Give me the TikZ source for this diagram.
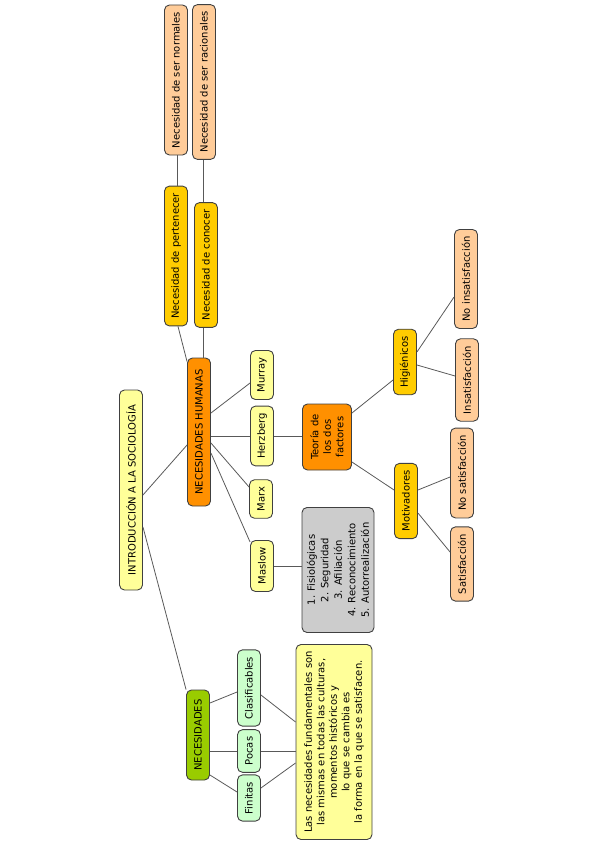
\documentclass[tikz,border=0pt]{standalone}
\usepackage{fontspec}
\setmainfont{DejaVu Sans}
\definecolor{amarillo}{HTML}{FFFF99}
\definecolor{naranja}{HTML}{FF9000}
\definecolor{oro}{HTML}{FFCC00}
\definecolor{durazno}{HTML}{FFCC99}
\definecolor{gris}{HTML}{CCCCCC}
\definecolor{verde}{HTML}{99CC00}
\definecolor{verdeclaro}{HTML}{CCFFCC}
\begin{document}
\begin{tikzpicture}[x=1pt, y=1pt, font=\fontsize{10}{12.5}\selectfont,
  caja/.style={draw=black!75, line width=.9pt, rounded corners=5pt, rotate=90,
    minimum height=23pt, inner xsep=7pt, inner ysep=2pt, align=center},
  linea/.style={draw=black!65, line width=.8pt}]
\useasboundingbox (0,0) rectangle (599,-848);
% concepto principal
\node[caja, fill=amarillo, minimum width=200pt] (intro) at (131,-490) {INTRODUCCIÓN A LA SOCIOLOGÍA};
\node[caja, fill=naranja, minimum width=148pt] (nh) at (199,-432) {NECESIDADES HUMANAS};
\node[caja, fill=verde, minimum width=90pt] (nec) at (198,-735) {NECESIDADES};
% necesidades humanas
\node[caja, fill=oro] (pert) at (176,-256) {Necesidad de pertenecer};
\node[caja, fill=oro] (conocer) at (206,-265) {Necesidad de conocer};
\node[caja, fill=durazno] (normales) at (176,-80) {Necesidad de ser normales};
\node[caja, fill=durazno] (racionales) at (204,-82) {Necesidad de ser racionales};
\node[caja, fill=amarillo] (murray) at (262,-375) {Murray};
\node[caja, fill=amarillo] (herz) at (262,-436) {Herzberg};
\node[caja, fill=amarillo] (marx) at (261,-499) {Marx};
\node[caja, fill=amarillo] (maslow) at (262,-566) {Maslow};
\node[caja, fill=naranja, minimum width=66pt, minimum height=49pt, inner xsep=3pt] (teoria) at (327,-437)
  {Teoría de\\los dos\\factores};
\node[caja, fill=gris, minimum width=125pt, minimum height=72pt, inner xsep=3pt,
  font=\fontsize{10}{13.5}\selectfont] (lista) at (338,-570)
  {1. Fisiológicas\\2. Seguridad\\3. Afiliación\\4. Reconocimiento\\5. Autorrealización};
% teoria de los dos factores
\node[caja, fill=oro] (hig) at (405,-362) {Higiénicos};
\node[caja, fill=oro] (mot) at (406,-501) {Motivadores};
\node[caja, fill=durazno] (noinsat) at (466,-279) {No insatisfacción};
\node[caja, fill=durazno] (insat) at (467,-380) {Insatisfacción};
\node[caja, fill=durazno] (nosat) at (462,-473) {No satisfacción};
\node[caja, fill=durazno] (sat) at (462,-564) {Satisfacción};
% necesidades
\node[caja, fill=verdeclaro] (clasif) at (249,-688) {Clasificables};
\node[caja, fill=verdeclaro] (pocas) at (249,-751) {Pocas};
\node[caja, fill=verdeclaro] (finitas) at (249,-798) {Finitas};
\node[caja, fill=amarillo, minimum width=195pt, minimum height=76pt, inner xsep=3pt] (frase) at (334,-742)
  {Las necesidades fundamentales son\\las mismas en todas las culturas,\\momentos históricos y\\lo que se cambia es\\la forma en la que se satisfacen.};
% conexiones
\draw[linea] ([yshift=-5]intro.south) -- ([yshift=-13]nh.north);
\draw[linea] ([yshift=-37]intro.south) -- (nec.north east);
\draw[linea] ([yshift=-4]nh.north east) -- ([xshift=2]pert.west);
\draw[linea] ([xshift=4]nh.east) -- ([xshift=-3]conocer.west);
\draw[linea] ([xshift=1]pert.east) -- ([xshift=1]normales.west);
\draw[linea] ([xshift=-3]conocer.east) -- ([xshift=-1]racionales.west);
\draw[linea] ([yshift=19]nh.south) -- ([yshift=-8]murray.north);
\draw[linea] (nh.south |- herz.north) -- (herz.north);
\draw[linea] ([yshift=-11]nh.south) -- ([yshift=12]marx.north);
\draw[linea] ([yshift=-21]nh.south) -- ([yshift=24]maslow.north);
\draw[linea] (herz.south) -- (herz.south -| teoria.north);
\draw[linea] (maslow.south) -- (maslow.south -| lista.north);
\draw[linea] ([yshift=24]teoria.south) -- ([yshift=-18]hig.north);
\draw[linea] ([yshift=-25]teoria.south) -- ([yshift=11]mot.north);
\draw[linea] ([yshift=10]hig.south) -- ([yshift=-18]noinsat.north);
\draw[linea] ([yshift=-3]hig.south) -- ([yshift=4]insat.north);
\draw[linea] ([yshift=11]mot.south) -- ([yshift=-4]nosat.north);
\draw[linea] ([yshift=-12]mot.south) -- ([yshift=12]sat.north);
\draw[linea] ([yshift=32]nec.south) -- ([yshift=-4]clasif.north);
\draw[linea] (nec.south |- pocas.north) -- (pocas.north);
\draw[linea] ([yshift=-40]nec.south) -- ([yshift=6]finitas.north);
\draw[linea] ([yshift=-7]clasif.south) -- ([yshift=20]frase.north);
\draw[linea] (pocas.south) -- (pocas.south -| frase.north);
\draw[linea] ([yshift=10]finitas.south) -- ([yshift=-21]frase.north);
\end{tikzpicture}
\end{document}
